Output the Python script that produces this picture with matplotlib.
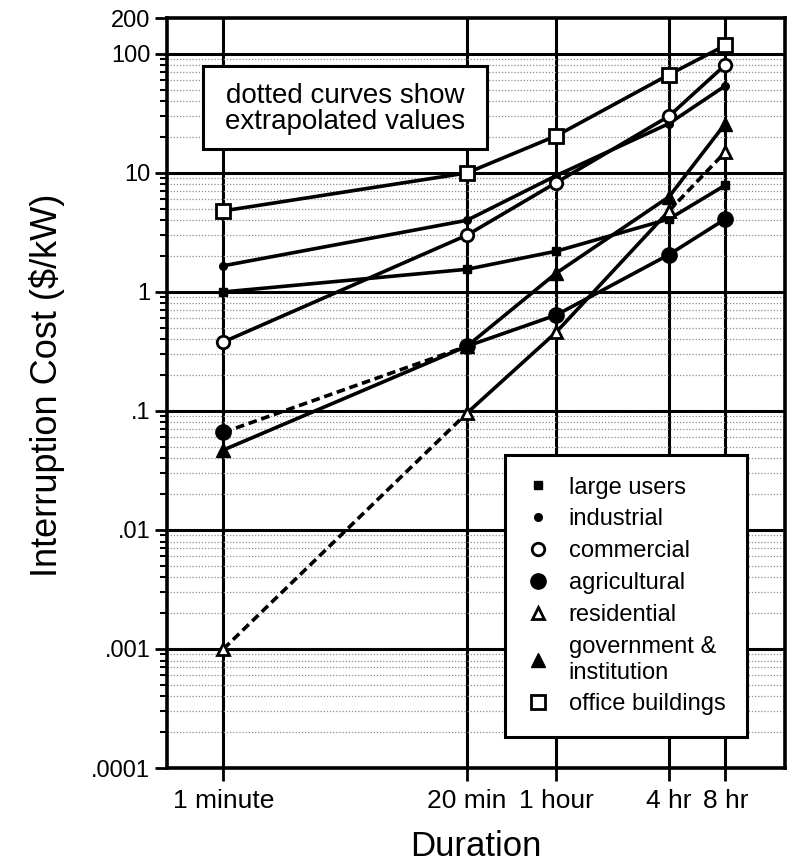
import matplotlib
matplotlib.use('Agg')
import matplotlib.pyplot as plt
from matplotlib.lines import Line2D
from matplotlib.patches import Rectangle
from matplotlib.ticker import FixedLocator, NullFormatter, LogLocator

# ---------------- data ----------------
durations = [1, 20, 60, 240, 480]            # minutes
duration_labels = ['1 minute', '20 min', '1 hour', '4 hr', '8 hr']

large_users      = [1.0, 1.55, 2.2, 4.1, 7.9]
industrial       = [1.66, 4.0, 9.5, 26, 54]
commercial       = [0.38, 3.0, 8.3, 30, 81]
agricultural     = [0.066, 0.35, 0.64, 2.06, 4.1]
residential      = [0.001, 0.096, 0.46, 4.8, 15]
government       = [0.047, 0.35, 1.44, 6.3, 26]
office_buildings = [4.8, 10, 20.5, 67, 118]

# indices of segments (i -> i+1) that are extrapolated (dotted)
agricultural_dashed = [0]
residential_dashed = [0, 3]

ytick_values = [1e-4, 1e-3, 1e-2, 0.1, 1, 10, 100, 200]
ytick_labels = ['.0001', '.001', '.01', '.1', '1', '10', '100', '200']

series = [
    ('large users', large_users, [], dict(marker='s', ms=6, mfc='black')),
    ('industrial', industrial, [], dict(marker='o', ms=5.5, mfc='black')),
    ('commercial', commercial, [], dict(marker='o', ms=9, mfc='white', mew=2)),
    ('agricultural', agricultural, agricultural_dashed, dict(marker='o', ms=11, mfc='black')),
    ('residential', residential, residential_dashed, dict(marker='^', ms=9, mfc='white', mew=2)),
    ('government &\ninstitution', government, [], dict(marker='^', ms=10, mfc='black')),
    ('office buildings', office_buildings, [], dict(marker='s', ms=10, mfc='white', mew=2)),
]

FONT = ['Liberation Sans', 'DejaVu Sans']
plt.rcParams['font.family'] = FONT

fig = plt.figure(figsize=(7.92, 8.61), dpi=100)
ax = fig.add_axes([0.2109, 0.108, 0.7803, 0.871])
ax.set_xscale('log')
ax.set_yscale('log')
ax.set_xlim(0.5, 1000)
ax.set_ylim(1e-4, 200)

# grids
for y in [1e-3, 1e-2, 0.1, 1, 10, 100]:
    ax.axhline(y, color='black', lw=2.2, zorder=1)
for x in durations:
    ax.axvline(x, color='black', lw=2.2, zorder=1)
ax.yaxis.set_minor_locator(LogLocator(base=10, subs=[2, 3, 4, 5, 6, 7, 8, 9]))
ax.yaxis.set_minor_formatter(NullFormatter())
ax.yaxis.grid(True, which='minor', linestyle=(0, (1, 1.5)), color='0.55', lw=0.9, zorder=0)

# series
for label, vals, dashed, style in series:
    for i in range(len(durations) - 1):
        ls = (0, (2.4, 1.3)) if i in dashed else '-'
        ax.plot(durations[i:i + 2], vals[i:i + 2], color='black', lw=2.6,
                linestyle=ls, zorder=3, solid_capstyle='butt')
    ax.plot(durations, vals, linestyle='none', color='black', mec='black',
            zorder=4, **style)

# ticks
ax.set_xticks(durations)
ax.set_xticklabels(duration_labels, fontsize=19)
ax.xaxis.set_minor_locator(FixedLocator([]))
ax.set_yticks(ytick_values)
ax.set_yticklabels(ytick_labels, fontsize=17)
ax.tick_params(axis='x', which='major', direction='out', length=9, width=2, pad=6)
ax.tick_params(axis='y', which='major', direction='out', length=9, width=2, pad=3)
ax.tick_params(axis='y', which='minor', direction='out', length=5, width=1.5)

for sp in ax.spines.values():
    sp.set_linewidth(2.6)

ax.set_xlabel('Duration', fontsize=25, labelpad=12)
ax.set_ylabel('Interruption Cost ($/kW)', fontsize=26)
ax.yaxis.set_label_coords(-0.165, 0.51)

# annotation box
ax.add_patch(Rectangle((0.0583, 0.8253), 0.4595, 0.1107, transform=ax.transAxes,
                       facecolor='white', edgecolor='black', lw=2.2, zorder=5))
ax.text(0.288, 0.879, 'dotted curves show\nextrapolated values', transform=ax.transAxes,
        ha='center', va='center', fontsize=20, linespacing=1.0, zorder=6)

# legend
handles = []
for label, vals, dashed, style in series:
    handles.append(Line2D([], [], linestyle='none', color='black', mec='black', **style))
leg = ax.legend(handles, [s[0] for s in series], loc='upper left',
                bbox_to_anchor=(0.547, 0.417), frameon=True, fancybox=False,
                fontsize=17, handlelength=1.0, handletextpad=0.8,
                borderpad=0.9, labelspacing=0.42, borderaxespad=0)
leg.get_frame().set_edgecolor('black')
leg.get_frame().set_linewidth(2.2)
leg.get_frame().set_alpha(1)
leg.set_zorder(6)

fig.savefig('out.png', dpi=100)
